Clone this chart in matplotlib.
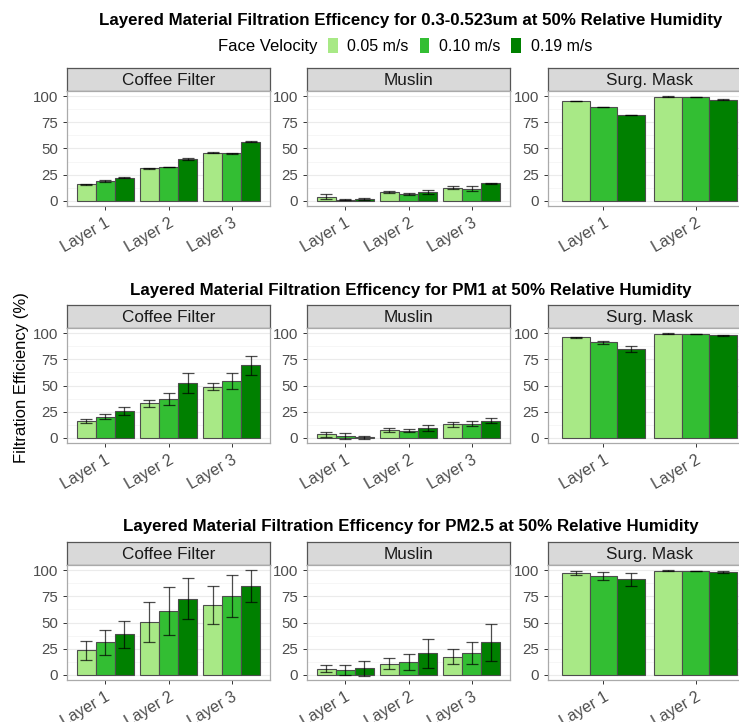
import numpy as np
import matplotlib.pyplot as plt
from matplotlib.patches import Patch

plt.rcParams['font.family'] = ['Liberation Sans', 'DejaVu Sans']

velocities = ["0.05 m/s", "0.10 m/s", "0.19 m/s"]
vel_colors = ["#A8E986", "#33BE33", "#008000"]
materials = ["Coffee Filter", "Muslin", "Surg. Mask"]
layers = [["Layer 1", "Layer 2", "Layer 3"],
          ["Layer 1", "Layer 2", "Layer 3"],
          ["Layer 1", "Layer 2"]]
titles = ["Layered Material Filtration Efficency for 0.3-0.523um at 50% Relative Humidity",
          "Layered Material Filtration Efficency for PM1 at 50% Relative Humidity",
          "Layered Material Filtration Efficency for PM2.5 at 50% Relative Humidity"]

# mean efficiency (%), [layer][velocity]
fine_coffee = [[15.9, 19.0, 21.9], [31.1, 32.4, 39.7], [46.0, 45.4, 56.5]]
fine_coffee_err = [[0.4, 0.8, 0.4], [0.4, 0.3, 0.8], [0.5, 0.7, 0.5]]
fine_muslin = [[3.8, 0.8, 1.6], [8.6, 6.7, 8.6], [12.4, 11.7, 16.8]]
fine_muslin_err = [[2.5, 0.5, 0.8], [1.0, 1.2, 2.0], [1.5, 2.5, 0.5]]
fine_mask = [[95.6, 89.8, 81.9], [99.7, 99.0, 96.8]]
fine_mask_err = [[0.2, 0.3, 0.3], [0.2, 0.2, 0.3]]

pm1_coffee = [[16.2, 20.0, 25.7], [33.0, 37.1, 52.4], [48.9, 54.3, 69.5]]
pm1_coffee_err = [[2.0, 2.5, 4.2], [3.5, 6.0, 9.5], [3.2, 7.5, 9.0]]
pm1_muslin = [[3.5, 1.6, 0.3], [7.6, 6.7, 9.5], [12.7, 13.3, 16.5]]
pm1_muslin_err = [[2.3, 2.5, 1.3], [2.0, 1.5, 3.0], [2.0, 2.5, 2.0]]
pm1_mask = [[96.2, 91.4, 85.0], [99.7, 99.4, 98.0]]
pm1_mask_err = [[0.5, 1.6, 2.5], [0.2, 0.2, 0.5]]

pm25_coffee = [[23.3, 30.9, 38.8], [50.8, 60.6, 72.9], [66.9, 75.4, 84.9]]
pm25_coffee_err = [[8.8, 11.8, 13.0], [19.0, 23.0, 19.4], [18.3, 20.5, 15.0]]
pm25_muslin = [[6.0, 4.7, 6.3], [10.7, 12.0, 20.5], [17.4, 21.1, 30.9]]
pm25_muslin_err = [[3.8, 4.5, 7.0], [5.2, 7.4, 13.6], [6.8, 10.4, 17.5]]
pm25_mask = [[97.2, 94.3, 91.2], [99.7, 99.4, 98.4]]
pm25_mask_err = [[1.6, 4.0, 6.0], [0.2, 0.3, 0.8]]

rows = [
    [(fine_coffee, fine_coffee_err), (fine_muslin, fine_muslin_err), (fine_mask, fine_mask_err)],
    [(pm1_coffee, pm1_coffee_err), (pm1_muslin, pm1_muslin_err), (pm1_mask, pm1_mask_err)],
    [(pm25_coffee, pm25_coffee_err), (pm25_muslin, pm25_muslin_err), (pm25_mask, pm25_mask_err)],
]

W, H = 739, 722
fig = plt.figure(figsize=(W / 100, H / 100), dpi=100)


def px_axes(left, top, width, height):
    return fig.add_axes([left / W, 1 - (top + height) / H, width / W, height / H])


col_left = [67, 307, 548]
panel_w = 203
strip_top = [68, 305, 542]
strip_h = 23
panel_h = 115
title_y = [20, 291, 527]

for r, row in enumerate(rows):
    fig.text(411 / W, 1 - title_y[r] / H, titles[r], ha='center', va='center',
             fontsize=12.2, fontweight='bold', color='black')
    for c, (means, errs) in enumerate(row):
        means = np.array(means)
        errs = np.array(errs)
        n = len(layers[c])
        # strip
        sax = px_axes(col_left[c], strip_top[r], panel_w, strip_h)
        sax.set_facecolor('#D9D9D9')
        sax.set_xticks([])
        sax.set_yticks([])
        for s in sax.spines.values():
            s.set_color('#555555')
            s.set_linewidth(0.9)
        sax.text(0.5, 0.45, materials[c], ha='center', va='center', fontsize=12.3,
                 color='#1A1A1A', transform=sax.transAxes)
        # panel
        ax = px_axes(col_left[c], strip_top[r] + strip_h, panel_w, panel_h)
        x = np.arange(1, n + 1)
        for j in range(3):
            xs = x + (j - 1) * 0.3
            ax.bar(xs, means[:, j], width=0.3, color=vel_colors[j],
                   edgecolor='#4D4D4D', linewidth=0.8, zorder=2)
            ax.errorbar(xs, means[:, j], yerr=errs[:, j], fmt='none',
                        ecolor=(0, 0, 0, 0.7), elinewidth=0.9, capsize=4.3,
                        capthick=0.9, zorder=3)
        ax.set_xlim(0.4, n + 0.6)
        ax.set_ylim(-5, 105)
        ax.set_yticks([0, 25, 50, 75, 100])
        ax.set_yticks([12.5, 37.5, 62.5, 87.5], minor=True)
        ax.grid(axis='y', which='major', color='#EBEBEB', linewidth=0.8, zorder=0)
        ax.grid(axis='y', which='minor', color='#F5F5F5', linewidth=0.6, zorder=0)
        ax.set_axisbelow(True)
        ax.set_xticks(x)
        ax.set_xticklabels(layers[c], rotation=30, ha='right', rotation_mode='anchor')
        ax.tick_params(axis='both', which='major', labelcolor='#4D4D4D',
                       color='#333333', length=3, width=0.7)
        ax.tick_params(axis='x', labelsize=11.5)
        ax.tick_params(axis='y', labelsize=10.8)
        ax.tick_params(axis='y', which='minor', length=0)
        for s in ax.spines.values():
            s.set_color('#AAAAAA')
            s.set_linewidth(0.9)

fig.text(22 / W, 1 - 378 / H, "Filtration Efficiency (%)", rotation=90,
         ha='center', va='center', fontsize=12, color='black')

handles = [Patch(facecolor=col, edgecolor='none') for col in vel_colors]
fig.legend(handles, velocities, loc='center', bbox_to_anchor=(460 / W, 1 - 46 / H),
           ncol=3, frameon=False, fontsize=11.5, handlelength=0.6, handleheight=1.1,
           columnspacing=0.7, handletextpad=0.6)
fig.text(318 / W, 1 - 46 / H, "Face Velocity", ha='right', va='center', fontsize=12)

fig.savefig('out.png', dpi=100)
